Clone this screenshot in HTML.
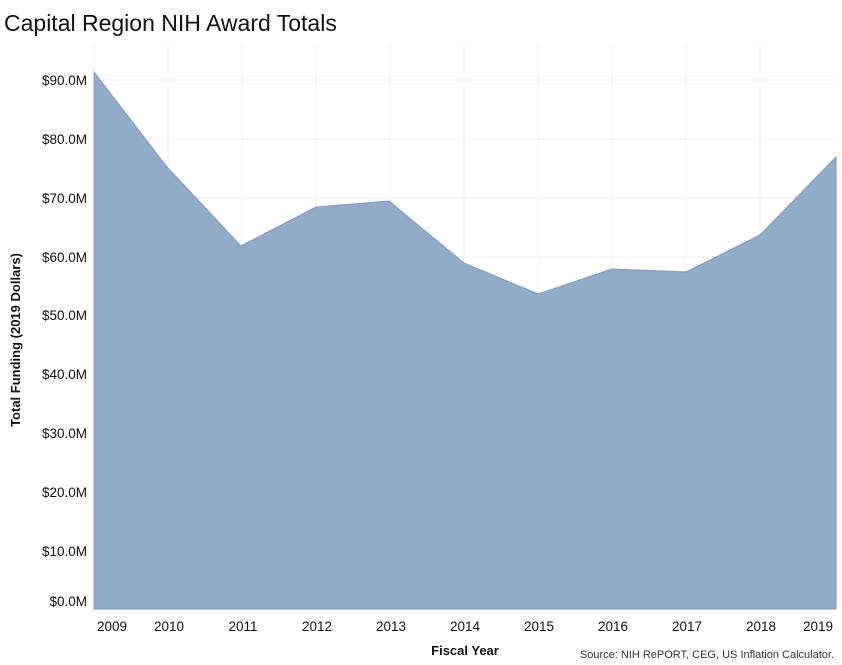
<!DOCTYPE html>
<html><head><meta charset="utf-8"><style>
body{margin:0;background:#fff;width:842px;height:660px;overflow:hidden;font-family:"Liberation Sans",sans-serif}
</style></head><body>
<svg width="842" height="660" xmlns="http://www.w3.org/2000/svg" font-family="Liberation Sans, sans-serif">
<text x="4" y="31" font-size="23" fill="#111">Capital Region NIH Award Totals</text>
<g stroke="#eeeeee" stroke-width="1">
<line x1="94" y1="80" x2="836" y2="80"/><line x1="94" y1="139" x2="836" y2="139"/><line x1="94" y1="198" x2="836" y2="198"/><line x1="94" y1="257" x2="836" y2="257"/><line x1="94" y1="315" x2="836" y2="315"/>
<line x1="168" y1="45" x2="168" y2="609"/><line x1="242" y1="45" x2="242" y2="609"/><line x1="316" y1="45" x2="316" y2="609"/><line x1="390" y1="45" x2="390" y2="609"/><line x1="464" y1="45" x2="464" y2="609"/><line x1="538" y1="45" x2="538" y2="609"/><line x1="612" y1="45" x2="612" y2="609"/><line x1="686" y1="45" x2="686" y2="609"/><line x1="760" y1="45" x2="760" y2="609"/><line x1="94" y1="45" x2="94" y2="609"/>
</g>
<polygon fill="#91abc8" stroke="#7f9cbc" stroke-width="1" points="94,72 167,167 241,246 316,207 389,201 464,263 538,294 612,269 686,272 760,235 836,157 836,609 94,609"/>
<g font-size="13.5" fill="#111" text-anchor="end">
<text x="87" y="85">$90.0M</text><text x="87" y="144">$80.0M</text><text x="87" y="203">$70.0M</text><text x="87" y="262">$60.0M</text><text x="87" y="320">$50.0M</text><text x="87" y="379">$40.0M</text><text x="87" y="438">$30.0M</text><text x="87" y="497">$20.0M</text><text x="87" y="556">$10.0M</text><text x="87" y="606">$0.0M</text>
</g>
<g font-size="13.5" fill="#111" text-anchor="middle">
<text x="112" y="631">2009</text><text x="169" y="631">2010</text><text x="243" y="631">2011</text><text x="317" y="631">2012</text><text x="391" y="631">2013</text><text x="465" y="631">2014</text><text x="539" y="631">2015</text><text x="613" y="631">2016</text><text x="687" y="631">2017</text><text x="761" y="631">2018</text><text x="818" y="631">2019</text>
</g>
<text x="465" y="655" font-size="13" font-weight="bold" text-anchor="middle" fill="#111">Fiscal Year</text>
<text transform="translate(20,340) rotate(-90)" font-size="13" font-weight="bold" text-anchor="middle" fill="#111">Total Funding (2019 Dollars)</text>
<text x="834" y="658" font-size="11" text-anchor="end" fill="#333">Source: NIH RePORT, CEG, US Inflation Calculator.</text>
</svg>
</body></html>
